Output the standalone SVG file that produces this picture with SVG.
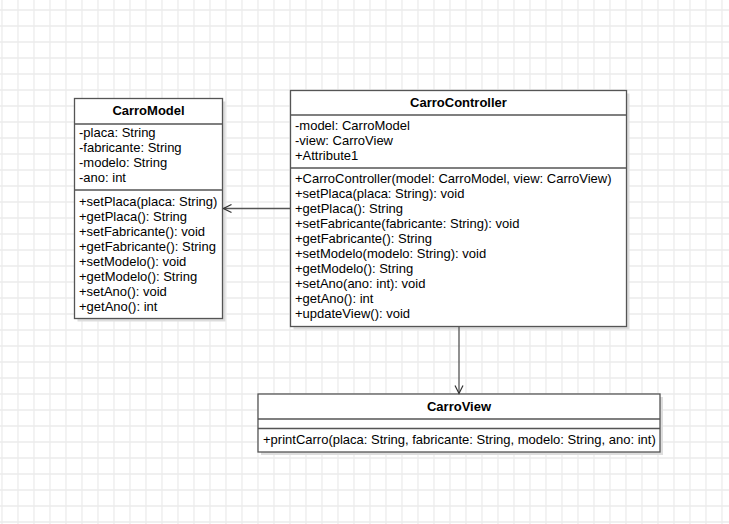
<svg xmlns="http://www.w3.org/2000/svg" width="729" height="524" viewBox="0 0 729 524">
<defs>
<pattern id="grid" width="16" height="16" patternUnits="userSpaceOnUse" x="1" y="9">
<path d="M0 1H16M1 0V16" fill="none" stroke="#ececec" stroke-width="1.3"/>
</pattern>
<marker id="open" viewBox="0 0 10 10" refX="9" refY="5" markerWidth="10" markerHeight="10" markerUnits="userSpaceOnUse" orient="auto">
<path d="M1 1L9 5L1 9" fill="none" stroke="#333" stroke-width="1.2"/>
</marker>
</defs>
<style>
text{font-family:"Liberation Sans",Arial,sans-serif;font-size:13px;fill:#000}
.t{font-weight:bold;text-anchor:middle}
.box{fill:#fff;stroke:#555;stroke-width:1.3}
.sh{fill:#ddd}
.div{stroke:#555;stroke-width:1.3}
.edge{fill:none;stroke:#555;stroke-width:1.3}
</style>
<rect width="729" height="524" fill="#fff"/>
<rect width="729" height="524" fill="url(#grid)"/>

<g id="CarroModel">
<rect class="sh" x="77.5" y="101.5" width="148" height="220"/>
<rect class="box" x="74.5" y="98.5" width="148" height="220"/>
<line class="div" x1="74.5" y1="124" x2="222.5" y2="124"/>
<line class="div" x1="74.5" y1="190" x2="222.5" y2="190"/>
<text class="t" x="148.5" y="115">CarroModel</text>
<text x="79" y="137">-placa: String</text>
<text x="79" y="152">-fabricante: String</text>
<text x="79" y="167">-modelo: String</text>
<text x="79" y="182">-ano: int</text>
<text x="79" y="206">+setPlaca(placa: String)</text>
<text x="79" y="221">+getPlaca(): String</text>
<text x="79" y="236">+setFabricante(): void</text>
<text x="79" y="251">+getFabricante(): String</text>
<text x="79" y="266">+setModelo(): void</text>
<text x="79" y="281">+getModelo(): String</text>
<text x="79" y="296">+setAno(): void</text>
<text x="79" y="311">+getAno(): int</text>
</g>

<g id="CarroController">
<rect class="sh" x="293.5" y="93.5" width="336" height="236"/>
<rect class="box" x="290.5" y="90.5" width="336" height="236"/>
<line class="div" x1="290.5" y1="115" x2="626.5" y2="115"/>
<line class="div" x1="290.5" y1="168" x2="626.5" y2="168"/>
<text class="t" x="458.5" y="107">CarroController</text>
<text x="295" y="130">-model: CarroModel</text>
<text x="295" y="145">-view: CarroView</text>
<text x="295" y="160">+Attribute1</text>
<text x="295" y="183">+CarroController(model: CarroModel, view: CarroView)</text>
<text x="295" y="198">+setPlaca(placa: String): void</text>
<text x="295" y="213">+getPlaca(): String</text>
<text x="295" y="228">+setFabricante(fabricante: String): void</text>
<text x="295" y="243">+getFabricante(): String</text>
<text x="295" y="258">+setModelo(modelo: String): void</text>
<text x="295" y="273">+getModelo(): String</text>
<text x="295" y="288">+setAno(ano: int): void</text>
<text x="295" y="303">+getAno(): int</text>
<text x="295" y="318">+updateView(): void</text>
</g>

<g id="CarroView">
<rect class="sh" x="261" y="397" width="402" height="58"/>
<rect class="box" x="258" y="394" width="402" height="58"/>
<line class="div" x1="258" y1="419" x2="660" y2="419"/>
<line class="div" x1="258" y1="428.5" x2="660" y2="428.5"/>
<text class="t" x="459" y="411">CarroView</text>
<text x="263" y="444">+printCarro(placa: String, fabricante: String, modelo: String, ano: int)</text>
</g>

<g id="connectors">
<path class="edge" d="M290.5 208.5H223.5" marker-end="url(#open)"/>
<path class="edge" d="M459 326.5V393.5" marker-end="url(#open)"/>
</g>
</svg>
